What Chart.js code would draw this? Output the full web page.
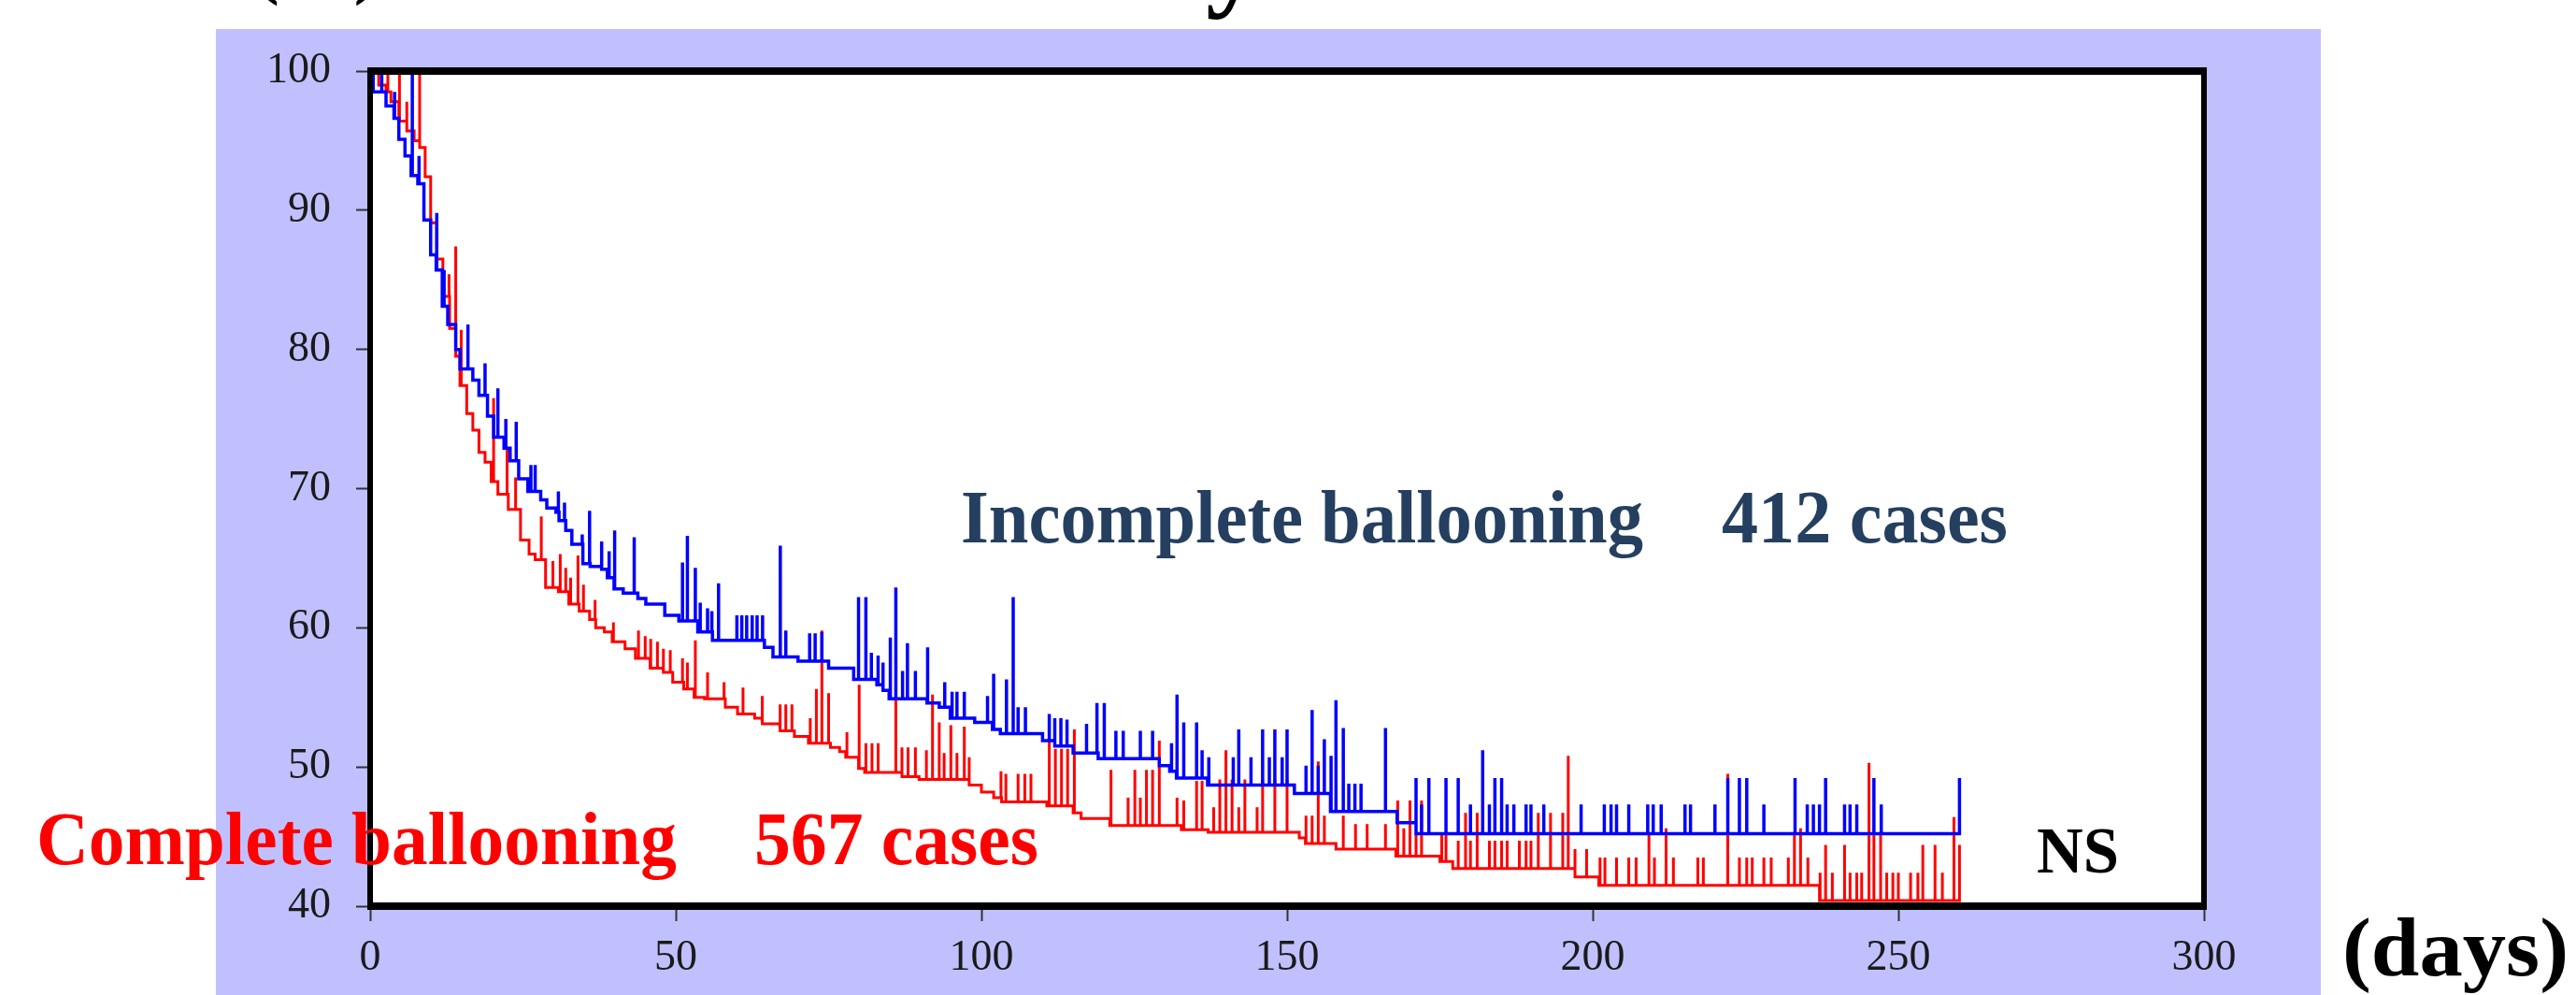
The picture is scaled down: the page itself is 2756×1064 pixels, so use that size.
<!DOCTYPE html>
<html>
<head>
<meta charset="utf-8">
<script src="https://cdn.jsdelivr.net/npm/chart.js@4.4.1/dist/chart.umd.min.js"></script>
<style>
  html, body { margin: 0; padding: 0; background: #fff; }
  #chart { display: block; }
</style>
</head>
<body>
<canvas id="chart" width="2756" height="1064"></canvas>
<script>
// Axis ticks
const dayTicks = [0, 50, 100, 150, 200, 250, 300];
const rateTicks = [40, 50, 60, 70, 80, 90, 100];

// Incomplete ballooning (412 cases): step drops and censor marks
const blueStepDays = [0.5, 2.6, 3.9, 4.7, 5.7, 6.7, 7.8, 8.8, 9.9, 10.8, 11.8, 12.7, 14.0, 14.7, 16.8, 17.8, 19.2, 20.2, 21.9, 22.9,
  24.3, 25.8, 27.9, 28.9, 30.4, 30.9, 32.0, 33.0, 34.8, 36.0, 37.8, 38.8, 39.9, 41.4, 43.8, 45.1, 48.2, 50.5, 53.6, 56.0,
  64.5, 65.9, 70.0, 75.0, 79.1, 82.9, 83.9, 84.9, 91.1, 93.1, 94.9, 98.9, 101.8, 103.1, 110.0, 112.0, 115.0, 119.1, 129.1, 130.8,
  131.9, 137.0, 151.2, 157.1, 168.0, 171.1];
const blueStepValues = [98.5, 97.5, 96.6, 95.1, 93.9, 92.5, 91.9, 89.3, 86.8, 85.7, 83.1, 81.8, 80.0, 78.6, 77.8, 76.7, 75.2, 73.7, 72.9, 72.0,
  70.7, 69.8, 69.2, 68.6, 68.3, 67.7, 67.0, 66.0, 64.6, 64.4, 64.2, 63.6, 62.8, 62.5, 62.1, 61.7, 60.9, 60.5, 59.7, 59.1,
  58.6, 57.9, 57.6, 57.1, 56.3, 55.9, 55.5, 54.9, 54.6, 54.3, 53.5, 53.2, 52.7, 52.4, 51.9, 51.5, 51.0, 50.6, 50.1, 49.7,
  49.2, 48.7, 48.1, 46.8, 46.0, 45.2];
const blueCensorDays = [1.9, 4.0, 6.9, 8.0, 10.9, 12.1, 16.0, 18.8, 20.9, 22.2, 23.9, 26.3, 27.0, 30.8, 31.8, 34.7, 35.9, 37.9, 39.1, 40.0,
  43.2, 51.1, 51.9, 53.2, 54.0, 55.2, 55.9, 57.0, 60.0, 60.8, 61.6, 62.5, 63.3, 64.2, 67.1, 68.0, 71.9, 72.8, 73.9,
  79.9, 81.1, 82.0, 83.1, 83.9, 85.1, 86.0, 87.1, 87.9, 89.2, 91.2, 94.0, 95.2, 96.0, 97.2, 101.0, 102.0, 104.1, 105.2, 106.0,
  107.2, 111.1, 112.0, 113.0, 114.0, 117.2, 118.9, 120.1, 122.0, 123.2, 126.0, 128.0, 131.1, 132.0, 133.1, 135.2, 136.1, 137.2,
  141.2, 142.1, 144.1, 146.0, 147.1, 148.0, 149.2, 150.0, 153.1, 154.1, 155.1, 156.1, 157.2, 158.0, 159.2, 160.1, 161.1, 162.1,
  166.1, 171.1, 172.0, 173.2, 176.0, 178.0, 180.0, 182.0, 183.1, 184.0, 185.1, 186.0, 187.1, 189.1, 189.9, 192.0, 198.1,
  201.9, 203.0, 203.9, 205.9, 209.0, 209.9, 211.2, 215.1, 216.0, 220.0, 222.1, 224.0, 225.2, 228.0, 233.1, 235.1, 236.1, 237.1,
  238.1, 241.2, 242.1, 243.2, 246.0, 247.2, 260.0];
const blueCensorTops = [100, 98.5, 100, 93.9, 89.8, 85.7, 81.8, 79.0, 77.2, 75.0, 74.8, 71.7, 71.7, 69.8, 69.0, 66.7, 68.4, 66.2, 65.5, 67.0,
  66.5, 64.7, 66.6, 64.3, 61.8, 61.4, 61.2, 63.2, 60.9, 60.9, 60.9, 60.9, 60.9, 60.9, 65.9, 59.8, 59.6, 59.6, 59.7,
  62.2, 62.2, 58.2, 58.0, 57.5, 59.3, 62.9, 56.9, 58.9, 56.9, 58.6, 56.1, 55.4, 55.4, 55.4, 55.1, 56.7, 56.3, 62.2, 54.3,
  54.3, 53.8, 53.5, 53.5, 53.4, 53.1, 54.6, 54.6, 52.6, 52.6, 52.6, 52.6, 51.7, 55.2, 53.2, 53.2, 51.2, 50.7,
  50.7, 52.7, 50.7, 52.7, 50.7, 52.7, 50.7, 52.7, 50.1, 54.1, 50.1, 52.0, 50.8, 54.8, 52.8, 48.8, 48.8, 48.8,
  52.8, 49.2, 47.3, 49.2, 49.2, 49.2, 47.3, 51.2, 47.3, 49.2, 49.2, 47.3, 47.3, 47.3, 47.3, 47.3, 47.3,
  47.3, 47.3, 47.3, 47.3, 47.3, 47.3, 47.3, 47.3, 47.3, 47.3, 49.2, 49.2, 49.2, 47.3, 49.2, 47.3, 47.3, 47.3,
  49.2, 47.3, 47.3, 47.3, 49.2, 47.3, 49.2];

// Complete ballooning (567 cases): step drops and censor marks
const redStepDays = [1.4, 2.6, 3.4, 4.7, 6.0, 7.2, 8.1, 9.0, 9.9, 10.9, 11.9, 13.0, 14.0, 14.7, 15.8, 16.8, 17.8, 18.8, 19.8, 20.9,
  22.6, 24.6, 26.0, 27.0, 28.7, 30.8, 32.5, 34.2, 35.9, 36.9, 38.3, 39.6, 41.7, 43.4, 45.8, 47.9, 49.5, 51.3, 53.0, 54.7,
  58.1, 60.1, 62.9, 64.2, 67.0, 69.4, 71.7, 75.3, 76.8, 77.8, 79.9, 80.9, 87.0, 89.8, 98.0, 100.0, 102.0, 103.3, 110.7, 115.0,
  116.3, 121.0, 132.7, 137.1, 152.0, 153.0, 158.0, 167.8, 175.0, 177.1, 197.1, 201.0, 237.1];
const redStepValues = [99.0, 98.5, 97.8, 96.4, 95.7, 95.0, 94.5, 92.4, 89.1, 86.5, 83.8, 81.5, 79.5, 77.4, 75.4, 74.2, 72.6, 71.9, 70.5, 69.6,
  68.5, 66.3, 65.3, 64.9, 62.9, 62.6, 61.7, 61.2, 60.6, 60.0, 59.7, 59.0, 58.5, 57.8, 57.1, 56.8, 56.1, 55.6, 55.0, 54.9,
  54.3, 53.8, 53.5, 53.1, 52.6, 52.2, 51.7, 51.4, 51.1, 50.7, 49.9, 49.6, 49.3, 49.1, 48.7, 48.2, 47.8, 47.5, 47.2, 46.7,
  46.3, 45.8, 45.5, 45.3, 44.9, 44.5, 44.1, 43.6, 43.2, 42.7, 42.1, 41.5, 40.4];
const redCensorDays = [2.9, 4.8, 6.0, 8.1, 12.9, 14.0, 14.9, 20.2, 22.4, 23.8,
  28.0, 28.7, 29.9, 31.1, 32.0, 32.8, 34.0, 34.9, 36.8, 39.8, 43.9, 45.0, 45.9, 47.0, 48.0, 49.1, 51.1, 51.9, 53.2, 55.2,
  57.9, 61.0, 64.1, 67.1, 68.0, 69.0, 72.0, 73.0, 73.9, 75.0,
  78.0, 80.0, 81.1, 82.1, 83.1, 86.0, 87.0, 88.0, 89.2, 91.0, 92.0, 93.1, 93.9, 95.0, 96.0, 97.2, 98.0, 103.2, 104.0, 106.0,
  107.1, 108.1, 111.1, 112.1, 113.1, 114.1, 115.2, 121.2, 124.0, 125.1, 126.0, 127.0, 128.0, 129.1, 132.0, 133.1, 135.2, 136.1,
  138.0, 139.0, 140.0, 141.0, 142.1, 143.1, 145.1, 146.0, 148.0, 150.0, 153.1, 154.1, 155.1, 156.1, 159.2, 161.2, 163.1, 166.1,
  168.1, 169.1, 170.1, 171.1, 172.0, 175.3, 176.0, 178.0, 179.2, 180.0, 181.1, 183.1, 184.0, 185.1, 186.0, 188.0, 189.1, 189.9,
  191.1, 193.1, 195.1, 196.0, 197.1, 199.0,
  201.2, 202.0, 203.9, 205.9, 207.1, 209.2, 210.1, 212.0, 213.2, 217.2, 218.1, 222.1, 224.0, 225.2, 226.1, 228.0, 229.2, 232.0,
  233.0, 234.0, 235.2, 237.2, 238.1, 239.2, 241.2, 242.1, 243.2, 244.0, 245.2, 246.0, 247.1, 248.1, 249.1, 250.0, 252.0, 253.2,
  254.0, 256.0, 257.2, 259.1, 260.0];
const redCensorTops = [100, 100, 97.8, 100, 85.4, 87.4, 81.4, 76.5, 72.8, 70.8,
  68.0, 65.0, 64.8, 65.3, 64.3, 63.6, 65.2, 63.1, 62.0, 60.4, 59.8, 59.4, 59.2, 59.0, 58.5, 58.4, 57.8, 57.5, 59.1, 56.8,
  56.1, 55.7, 55.1, 54.5, 54.5, 54.5, 53.5, 55.6, 59.8, 55.3,
  52.5, 55.9, 51.7, 51.7, 51.7, 54.8, 51.4, 51.4, 51.4, 51.2, 55.2, 53.2, 51.0, 53.0, 51.0, 52.9, 50.7, 49.7, 49.5, 49.5,
  49.5, 49.5, 51.9, 51.3, 51.3, 51.3, 52.7, 49.8, 47.8, 49.8, 47.8, 49.8, 49.8, 51.9, 47.8, 47.6, 49.0, 49.0,
  47.1, 49.1, 51.2, 49.1, 47.1, 49.1, 47.1, 49.1, 49.1, 49.1, 46.5, 46.5, 50.4, 46.5, 46.5, 45.9, 45.9, 45.9,
  47.6, 45.6, 47.6, 45.1, 47.6, 45.1, 45.1, 44.7, 46.7, 44.7, 46.7, 44.7, 44.7, 44.7, 44.7, 44.7, 44.7, 44.7,
  46.7, 46.7, 46.7, 50.8, 44.1, 44.1,
  43.5, 43.5, 43.5, 43.5, 43.5, 45.1, 43.5, 45.6, 43.5, 43.5, 43.5, 49.5, 43.5, 43.5, 43.5, 43.5, 43.5, 43.5,
  45.1, 45.6, 43.5, 42.4, 44.4, 42.4, 44.4, 42.4, 42.4, 42.4, 50.3, 45.1, 45.1, 42.4, 42.4, 42.4, 42.4, 42.4,
  44.4, 44.4, 42.4, 46.4, 44.4];

// Build a Kaplan-Meier style path: horizontal/vertical steps plus upward censor spikes
function buildCurve(stepDays, stepValues, censorDays, censorTops) {
    const events = [];
    stepDays.forEach((d, i) => events.push({ day: d, kind: 0, v: stepValues[i] }));
    censorDays.forEach((d, i) => events.push({ day: d, kind: 1, v: censorTops[i] }));
    events.sort((a, b) => a.day - b.day || a.kind - b.kind);

    const points = [{ x: 0, y: 100 }];
    let current = 100;
    events.forEach((e) => {
        if (e.kind === 0) {
            points.push({ x: e.day, y: current });
            points.push({ x: e.day, y: e.v });
            current = e.v;
        } else {
            const top = Math.max(e.v, current);
            points.push({ x: e.day, y: current });
            points.push({ x: e.day, y: top });
            points.push({ x: e.day, y: current });
        }
    });
    return points;
}

// Squeeze text to the width it takes on the slide (its lettering is condensed)
function drawFitted(ctx, text, x, baseline, width, font, color) {
    ctx.save();
    ctx.font = font;
    ctx.fillStyle = color;
    ctx.textAlign = 'left';
    ctx.textBaseline = 'alphabetic';
    const natural = ctx.measureText(text).width;
    ctx.translate(x, baseline);
    ctx.scale(width / natural, 1);
    ctx.fillText(text, 0, 0);
    ctx.restore();
}

const slidePlugin = {
    id: 'slide',
    beforeDraw(chart) {
        const { ctx, chartArea: a } = chart;
        ctx.save();
        ctx.fillStyle = '#ffffff';
        ctx.fillRect(0, 0, chart.width, chart.height);
        ctx.fillStyle = '#c0c0ff';
        ctx.fillRect(231, 31, 2252, chart.height - 31);
        ctx.fillStyle = '#ffffff';
        ctx.fillRect(a.left, a.top, a.right - a.left, a.bottom - a.top);
        ctx.restore();
    },
    afterDatasetsDraw(chart) {
        const { ctx, chartArea: a } = chart;
        ctx.save();
        ctx.fillStyle = '#000000';
        ctx.fillRect(a.left - 3, a.top - 4, a.right - a.left + 6, 8);
        ctx.fillRect(a.left - 3, a.bottom - 4, a.right - a.left + 6, 8);
        ctx.fillRect(a.left - 3, a.top - 4, 6, a.bottom - a.top + 8);
        ctx.fillRect(a.right - 3, a.top - 4, 6, a.bottom - a.top + 8);
        ctx.restore();
    },
    afterDraw(chart) {
        const ctx = chart.ctx;
        const serifBold = (size) => `bold ${size}px "Liberation Serif", "Times New Roman", serif`;

        // title cut off by the top edge: only descenders peek through
        ctx.save();
        ctx.fillStyle = '#000000';
        ctx.textBaseline = 'alphabetic';
        ctx.textAlign = 'left';
        ctx.font = serifBold(80);
        ctx.fillText('(%)', 272, -11);
        ctx.font = serifBold(120);
        ctx.textAlign = 'right';
        ctx.fillText('Patency', 1350, -5);
        ctx.restore();

        drawFitted(ctx, 'Incomplete ballooning', 1028, 580, 730, serifBold(80), '#243f60');
        drawFitted(ctx, '412 cases', 1842, 580, 306, serifBold(80), '#243f60');
        drawFitted(ctx, 'Complete ballooning', 39, 924, 685, serifBold(80), '#ff0000');
        drawFitted(ctx, '567 cases', 807, 924, 304, serifBold(80), '#ff0000');
        drawFitted(ctx, 'NS', 2179, 933, 88, serifBold(70), '#000000');
        drawFitted(ctx, '(days)', 2506, 1043, 242, serifBold(88), '#000000');
    }
};

const tickFont = { family: '"Liberation Serif", "Times New Roman", serif', size: 46 };

new Chart(document.getElementById('chart'), {
    type: 'line',
    data: {
        datasets: [
            {
                label: 'Incomplete ballooning',
                data: buildCurve(blueStepDays, blueStepValues, blueCensorDays, blueCensorTops),
                borderColor: '#0000ff',
                borderWidth: 3.5,
                pointRadius: 0,
                tension: 0,
                fill: false,
            },
            {
                label: 'Complete ballooning',
                data: buildCurve(redStepDays, redStepValues, redCensorDays, redCensorTops),
                borderColor: '#ff0000',
                borderWidth: 3,
                pointRadius: 0,
                tension: 0,
                fill: false,
            },
        ],
    },
    options: {
        responsive: false,
        animation: false,
        events: [],
        layout: { padding: { left: 0, top: 76, right: 398, bottom: 0 } },
        plugins: {
            legend: { display: false },
            tooltip: { enabled: false },
        },
        scales: {
            x: {
                type: 'linear',
                min: 0,
                max: 300,
                afterBuildTicks: (scale) => { scale.ticks = dayTicks.map((v) => ({ value: v })); },
                afterFit: (scale) => { scale.height = 95; scale.paddingLeft = 0; scale.paddingRight = 0; },
                border: { display: false },
                grid: { drawOnChartArea: false, drawTicks: true, tickLength: 16, tickColor: '#333333', tickWidth: 2 },
                ticks: { font: tickFont, color: '#1a1a1a', padding: 12, maxRotation: 0, autoSkip: false },
            },
            y: {
                type: 'linear',
                min: 40,
                max: 100,
                afterBuildTicks: (scale) => { scale.ticks = rateTicks.map((v) => ({ value: v })); },
                afterFit: (scale) => { scale.width = 396; scale.paddingTop = 0; scale.paddingBottom = 0; },
                border: { display: false },
                grid: { drawOnChartArea: false, drawTicks: true, tickLength: 15, tickColor: '#333333', tickWidth: 2 },
                ticks: { font: tickFont, color: '#1a1a1a', padding: 27, autoSkip: false },
            },
        },
    },
    plugins: [slidePlugin],
});
</script>
</body>
</html>
